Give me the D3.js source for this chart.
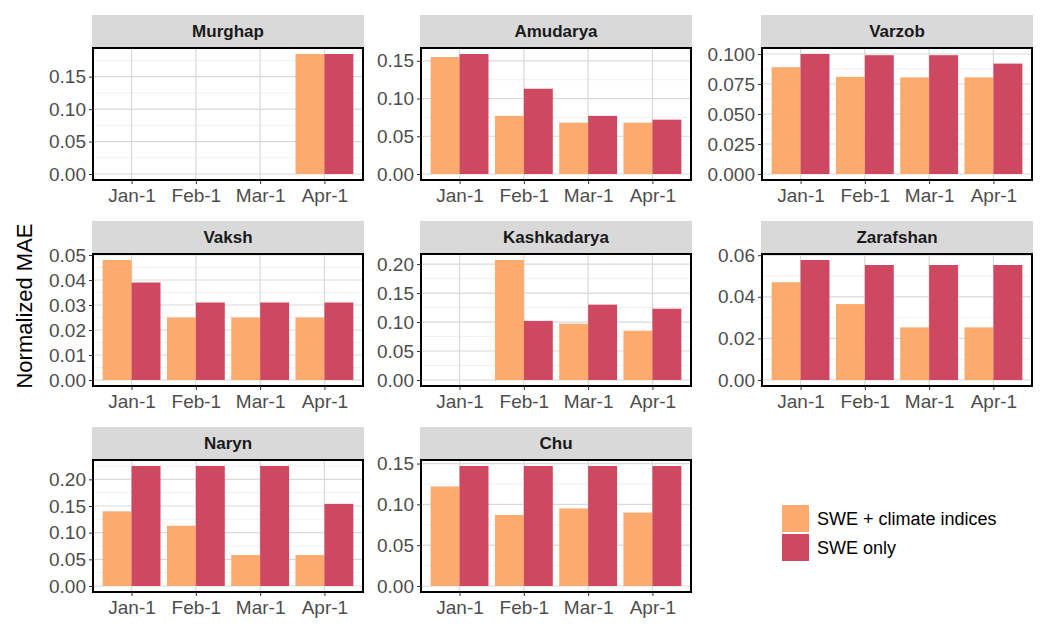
<!DOCTYPE html>
<html><head><meta charset="utf-8">
<script src="https://cdn.jsdelivr.net/npm/d3@7"></script>
<style>body{margin:0;background:#fff}text{font-family:"Liberation Sans",Arial,sans-serif}</style>
</head><body><svg id="c" width="1050" height="635"></svg>
<script>
var months = ["Jan-1", "Feb-1", "Mar-1", "Apr-1"];
var basins = ["Murghap", "Amudarya", "Varzob", "Vaksh", "Kashkadarya", "Zarafshan", "Naryn", "Chu"];
var series = ["SWE + climate indices", "SWE only"];
var colors = ["#fdaa6e", "#cf4862"];
// one row per basin, NaN = no bar
var sweClim = [
  [NaN, NaN, NaN, 0.185],
  [0.155, 0.077, 0.068, 0.068],
  [0.089, 0.081, 0.0805, 0.0805],
  [0.048, 0.025, 0.025, 0.025],
  [NaN, 0.207, 0.097, 0.085],
  [0.047, 0.0365, 0.0253, 0.0253],
  [0.140, 0.113, 0.058, 0.058],
  [0.122, 0.087, 0.095, 0.090]
];
var sweOnly = [
  [NaN, NaN, NaN, 0.185],
  [0.159, 0.113, 0.077, 0.072],
  [0.100, 0.099, 0.099, 0.092],
  [0.039, 0.031, 0.031, 0.031],
  [NaN, 0.102, 0.130, 0.123],
  [0.0577, 0.0553, 0.0553, 0.0553],
  [0.225, 0.225, 0.225, 0.154],
  [0.147, 0.147, 0.147, 0.147]
];
var tickStep = [0.05, 0.05, 0.025, 0.01, 0.05, 0.02, 0.05, 0.05];
var tickFmt = [".2f", ".2f", ".3f", ".2f", ".2f", ".2f", ".2f", ".2f"];

var svg = d3.select("#c");
var colX = [93, 421, 762], pw = 270;
var rowY = [15, 221, 427], stripH = 33, ph = 132;
var FONT = '"Liberation Sans",Arial,sans-serif';

basins.forEach(function (name, i) {
  var c = i % 3, r = Math.floor(i / 3);
  var x0 = colX[c], y0 = rowY[r] + stripH;
  var g = svg.append("g").attr("transform", "translate(" + x0 + "," + y0 + ")");
  var vals = sweClim[i].concat(sweOnly[i]).filter(function (v) { return !isNaN(v); });
  var mx = d3.max(vals);
  var top = mx * 1.05;
  var y = d3.scaleLinear().domain([-mx * 0.05, top]).range([ph, 0]);
  var x = d3.scaleLinear().domain([0.4, 4.6]).range([0, pw]);
  var step = tickStep[i];
  var ticks = d3.range(0, top + 1e-9, step);
  var minor = d3.range(step / 2, top, step);

  // grid
  g.selectAll(".mn").data(minor).join("line").attr("x1", 0).attr("x2", pw)
    .attr("y1", y).attr("y2", y).attr("stroke", "#ededed").attr("stroke-width", 0.8);
  g.selectAll(".mj").data(ticks).join("line").attr("x1", 0).attr("x2", pw)
    .attr("y1", y).attr("y2", y).attr("stroke", "#d9d9d9").attr("stroke-width", 1.2);
  g.selectAll(".vx").data(months).join("line").attr("y1", 0).attr("y2", ph)
    .attr("x1", function (d, k) { return x(k + 1); }).attr("x2", function (d, k) { return x(k + 1); })
    .attr("stroke", "#d9d9d9").attr("stroke-width", 1.2);

  // bars
  [sweClim[i], sweOnly[i]].forEach(function (arr, s) {
    var pts = arr.map(function (v, k) { return { v: v, k: k }; })
      .filter(function (d) { return !isNaN(d.v); });
    g.selectAll(".b" + s).data(pts).join("rect")
      .attr("x", function (d) { return x(d.k + 1 - 0.45 + s * 0.45); })
      .attr("width", x(1.45) - x(1))
      .attr("y", function (d) { return y(d.v); })
      .attr("height", function (d) { return y(0) - y(d.v); })
      .attr("fill", colors[s]);
  });

  g.append("rect").attr("width", pw).attr("height", ph).attr("fill", "none")
    .attr("stroke", "#000").attr("stroke-width", 2);

  // strip
  svg.append("rect").attr("x", x0 - 1).attr("y", rowY[r]).attr("width", pw + 2).attr("height", stripH - 1)
    .attr("fill", "#d9d9d9");
  svg.append("text").attr("x", x0 + pw / 2).attr("y", rowY[r] + 22).attr("text-anchor", "middle")
    .style("font-size", "17px").style("font-weight", "bold").attr("fill", "#1a1a1a").text(name);

  // axes
  var ya = g.append("g").call(d3.axisLeft(y).tickValues(ticks).tickFormat(d3.format(tickFmt[i])).tickSize(4).tickPadding(3));
  var xa = g.append("g").attr("transform", "translate(0," + ph + ")")
    .call(d3.axisBottom(x).tickValues([1, 2, 3, 4]).tickFormat(function (d) { return months[d - 1]; }).tickSize(4).tickPadding(5));
  [ya, xa].forEach(function (a) {
    a.attr("font-size", null).attr("font-family", null);
    a.select(".domain").remove();
    a.selectAll("line").attr("stroke", "#333");
    a.selectAll("text").style("font-size", "19px").attr("fill", "#4d4d4d").style("font-family", FONT);
  });
});

svg.append("text").attr("transform", "translate(32,306) rotate(-90)").attr("text-anchor", "middle")
  .style("font-size", "22px").attr("fill", "#000").text("Normalized MAE");

var lg = svg.append("g").attr("transform", "translate(782,505)");
series.forEach(function (s, k) {
  lg.append("rect").attr("x", 0).attr("y", k * 29).attr("width", 27).attr("height", 27).attr("fill", colors[k]);
  lg.append("text").attr("x", 35).attr("y", k * 29 + 20).style("font-size", "18px").attr("fill", "#000").text(s);
});
</script></body></html>
